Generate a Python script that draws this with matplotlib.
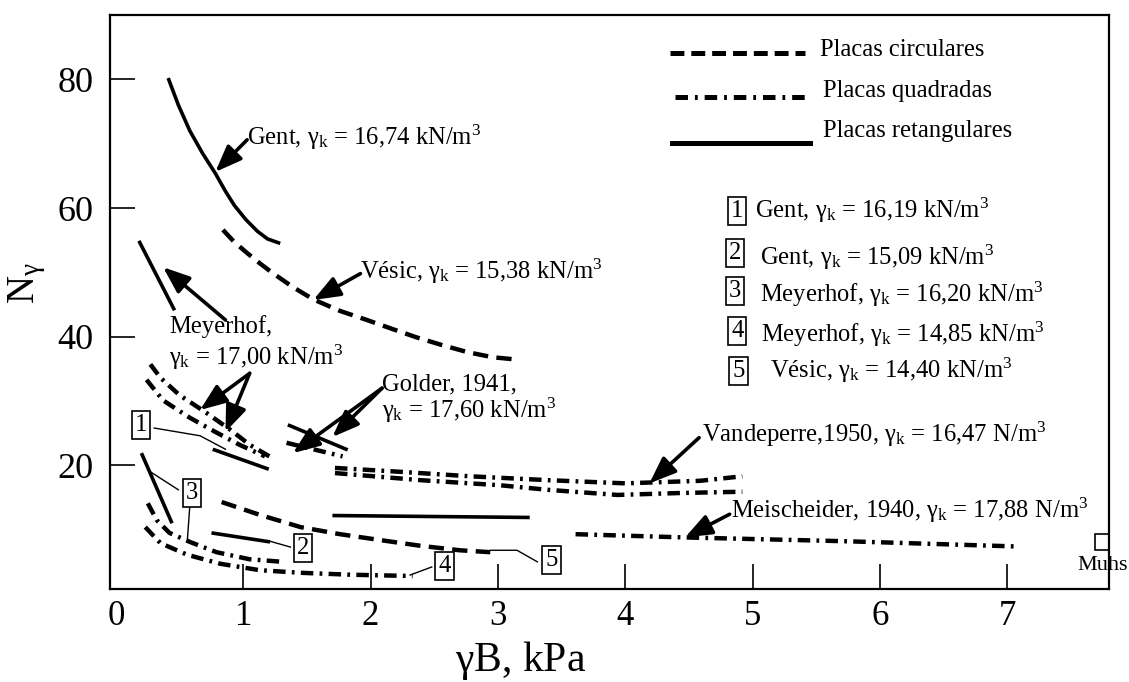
import matplotlib
matplotlib.use('Agg')
import matplotlib.pyplot as plt

plt.rcParams['font.family'] = ['Liberation Serif', 'DejaVu Serif']
plt.rcParams['mathtext.fontset'] = 'custom'
plt.rcParams['mathtext.rm'] = 'Liberation Serif'
plt.rcParams['mathtext.it'] = 'Liberation Serif'
plt.rcParams['mathtext.bf'] = 'Liberation Serif:bold'
plt.rcParams['lines.scale_dashes'] = False

# ---------------- data (gamma*B in kPa, N_gamma) ----------------
# placas retangulares (solid)
gent_1674_x = [0.41, 0.49, 0.58, 0.68, 0.78, 0.86, 0.93, 1.02, 1.11, 1.19, 1.29]
gent_1674_y = [80.2, 76.0, 72.0, 68.5, 65.4, 62.6, 60.4, 58.2, 56.4, 55.2, 54.5]
meyer_1700_rect_x = [0.18, 0.46]
meyer_1700_rect_y = [54.9, 44.1]
golder_rect_x = [1.35, 1.82]
golder_rect_y = [26.3, 22.4]
gent_1619_x = [0.76, 1.20]          # [1]
gent_1619_y = [22.5, 19.4]
meyer_1620_rect_x = [0.20, 0.44]    # [3]
meyer_1620_rect_y = [21.9, 11.0]
gent_1509_x = [0.75, 1.21]          # [2]
gent_1509_y = [9.5, 8.1]
rect_mid_x = [1.70, 3.25]
rect_mid_y = [12.2, 11.9]

# placas circulares (dashed)
vesic_1538_x = [0.84, 0.93, 1.03, 1.13, 1.23, 1.39, 1.55, 1.76, 1.97, 2.17, 2.36, 2.56, 2.76, 2.96, 3.17]
vesic_1538_y = [56.6, 54.7, 53.0, 51.4, 49.9, 47.7, 45.8, 44.0, 42.6, 41.2, 39.9, 38.7, 37.6, 36.8, 36.4]
vesic_1440_x = [0.83, 1.13, 1.45, 1.76, 2.07, 2.39, 2.70, 2.94]   # [5]
vesic_1440_y = [14.3, 12.3, 10.4, 9.3, 8.4, 7.5, 6.8, 6.5]

# placas quadradas (dash-dot)
meyer_1700_a_x = [0.27, 0.35, 0.50, 0.70, 0.90, 1.05, 1.23]
meyer_1700_a_y = [35.7, 33.6, 30.9, 28.3, 25.5, 23.2, 21.1]
meyer_1700_b_x = [0.24, 0.37, 0.58, 0.78, 0.97, 1.17]
meyer_1700_b_y = [33.3, 30.1, 27.4, 25.2, 23.2, 21.4]
golder_sq_x = [1.34, 1.78]
golder_sq_y = [23.5, 21.4]
vandep_a_x = [1.72, 2.23, 2.78, 3.39, 4.00, 4.59, 4.92]
vandep_a_y = [19.6, 19.0, 18.3, 17.7, 17.2, 17.6, 18.3]
vandep_b_x = [1.72, 2.39, 3.02, 3.39, 3.94, 4.43, 4.92]
vandep_b_y = [18.8, 17.7, 16.9, 16.2, 15.4, 15.7, 15.9]
meisch_x = [3.61, 4.46, 5.74, 7.06]
meisch_y = [9.3, 8.8, 8.2, 7.4]
meyer_1620_sq_x = [0.25, 0.32, 0.42, 0.58, 0.79, 1.05, 1.31]   # [3]
meyer_1620_sq_y = [14.1, 11.5, 9.5, 8.1, 6.5, 5.4, 5.0]
meyer_1485_x = [0.23, 0.35, 0.56, 0.82, 1.13, 1.45, 1.84, 2.33]  # [4]
meyer_1485_y = [10.4, 7.9, 6.1, 4.7, 3.7, 3.3, 3.0, 2.8]

muhs_x = [7.75]
muhs_y = [8.1]

x_ticks = [0, 1, 2, 3, 4, 5, 6, 7]
y_ticks = [20, 40, 60, 80]

# ---------------- styles ----------------
LW = 2.6
DASHED = (0, (11, 6))
DASHDOT = (0, (9, 4.5, 2, 4.5))
FS = 17.7
G = r'$\gamma_\mathrm{k}$'

fig = plt.figure(figsize=(11.29, 6.82), dpi=100)
ax = fig.add_axes([110 / 1129, 93 / 682, 999 / 1129, 574 / 682])
ax.set_xlim(-0.047, 7.80)
ax.set_ylim(0.78, 90)

solid = [(gent_1674_x, gent_1674_y), (meyer_1700_rect_x, meyer_1700_rect_y),
         (golder_rect_x, golder_rect_y), (gent_1619_x, gent_1619_y),
         (meyer_1620_rect_x, meyer_1620_rect_y), (gent_1509_x, gent_1509_y),
         (rect_mid_x, rect_mid_y)]
dashed = [(vesic_1538_x, vesic_1538_y), (vesic_1440_x, vesic_1440_y)]
dashdot = [(meyer_1700_a_x, meyer_1700_a_y), (meyer_1700_b_x, meyer_1700_b_y),
           (golder_sq_x, golder_sq_y), (vandep_a_x, vandep_a_y),
           (vandep_b_x, vandep_b_y), (meisch_x, meisch_y),
           (meyer_1620_sq_x, meyer_1620_sq_y), (meyer_1485_x, meyer_1485_y)]

for xs, ys in solid:
    ax.plot(xs, ys, color='black', lw=LW, solid_capstyle='butt', solid_joinstyle='round')
for xs, ys in dashed:
    ax.plot(xs, ys, color='black', lw=LW + 0.6, ls=DASHED, dash_capstyle='butt')
for xs, ys in dashdot:
    ax.plot(xs, ys, color='black', lw=LW + 0.6, ls=DASHDOT, dash_capstyle='butt')

ax.plot(muhs_x, muhs_y, marker='s', ms=11, mfc='none', mec='black', mew=1.2, ls='none')
ax.text(7.75, 3.7, 'Muhs', fontsize=16, ha='center', va='baseline')

# ---------------- legend (drawn by hand, as in the original) ----------------
ax.plot([4.35, 5.41], [84.1, 84.1], color='black', lw=LW + 1, ls=(0, (10, 5)), dash_capstyle='butt')
ax.plot([4.39, 5.41], [77.2, 77.2], color='black', lw=LW + 1, ls=(0, (9, 5, 2, 5)), dash_capstyle='butt')
ax.plot([4.37, 5.45], [70.1, 70.1], color='black', lw=LW + 1)
ax.text(5.53, 83.6, 'Placas circulares', fontsize=FS, va='baseline')
ax.text(5.55, 77.2, 'Placas quadradas', fontsize=FS, va='baseline')
ax.text(5.55, 71.0, 'Placas retangulares', fontsize=FS, va='baseline')

box = dict(boxstyle='square,pad=0.12', fc='white', ec='black', lw=1.2)
legend_items = [
    ('1', 4.88, 59.5, 5.02, 58.4, 'Gent, ' + G + ' = 16,19 kN/m$^3$'),
    ('2', 4.86, 53.0, 5.06, 51.1, 'Gent, ' + G + ' = 15,09 kN/m$^3$'),
    ('3', 4.86, 47.1, 5.06, 45.4, 'Meyerhof, ' + G + ' = 16,20 kN/m$^3$'),
    ('4', 4.88, 40.9, 5.07, 39.2, 'Meyerhof, ' + G + ' = 14,85 kN/m$^3$'),
    ('5', 4.89, 34.7, 5.14, 33.6, 'Vésic, ' + G + ' = 14,40 kN/m$^3$'),
]
for num, bx, by, tx, ty, label in legend_items:
    ax.text(bx, by, num, fontsize=FS, ha='center', va='center', bbox=box)
    ax.text(tx, ty, label, fontsize=FS, va='baseline')

# ---------------- annotations ----------------
ax.text(1.03, 69.8, 'Gent, ' + G + ' = 16,74 kN/m$^3$', fontsize=FS, va='baseline')
ax.text(1.92, 49.0, 'Vésic, ' + G + ' = 15,38 kN/m$^3$', fontsize=FS, va='baseline')
ax.text(0.42, 40.6, 'Meyerhof,', fontsize=FS, va='baseline')
ax.text(0.42, 35.6, G + ' = 17,00 kN/m$^3$', fontsize=FS, va='baseline')
ax.text(2.09, 31.7, 'Golder, 1941,', fontsize=FS, va='baseline')
ax.text(2.09, 27.4, G + ' = 17,60 kN/m$^3$', fontsize=FS, va='baseline')
ax.text(4.60, 23.6, 'Vandeperre,1950, ' + G + ' = 16,47 N/m$^3$', fontsize=FS, va='baseline')
ax.text(4.83, 11.8, 'Meischeider, 1940, ' + G + ' = 17,88 N/m$^3$', fontsize=FS, va='baseline')

arrows = [
    ((1.03, 70.6), (0.78, 65.6)),
    ((1.92, 49.8), (1.55, 45.7)),
    ((0.86, 42.6), (0.37, 50.8)),
    ((1.05, 34.3), (0.66, 28.6)),
    ((1.05, 34.3), (0.86, 25.2)),
    ((2.09, 32.0), (1.39, 21.9)),
    ((2.09, 32.0), (1.70, 24.4)),
    ((4.58, 24.3), (4.19, 17.2)),
    ((4.82, 12.4), (4.47, 8.8)),
]
for tail, head in arrows:
    ax.annotate('', xy=head, xytext=tail,
                arrowprops=dict(arrowstyle='-|>,head_length=0.9,head_width=0.35',
                                lw=2.6, color='black', shrinkA=0, shrinkB=0,
                                mutation_scale=18))

# numbered boxes on the curves and their leader lines
curve_boxes = [('1', 0.196, 26.3), ('3', 0.60, 15.7), ('2', 1.47, 7.1),
               ('4', 2.58, 4.35), ('5', 3.42, 5.3)]
for num, bx, by in curve_boxes:
    ax.text(bx, by, num, fontsize=FS, ha='center', va='center', bbox=box)

leaders = [
    ([0.30, 0.66, 0.86], [25.8, 24.6, 22.5]),
    ([0.49, 0.27], [16.2, 19.0]),
    ([0.58, 0.56], [13.7, 8.2]),
    ([1.21, 1.37], [8.2, 7.3]),
    ([2.31, 2.48], [2.95, 4.2]),
    ([2.94, 3.15, 3.31], [6.8, 6.8, 5.0]),
]
for xs, ys in leaders:
    ax.plot(xs, ys, color='black', lw=1.0)

# ---------------- axes ----------------
for s in ax.spines.values():
    s.set_linewidth(1.6)
ax.set_xticks(x_ticks)
ax.set_xticklabels([str(v) for v in x_ticks])
ax.set_yticks(y_ticks)
ax.set_yticklabels([str(v) for v in y_ticks])
ax.tick_params(axis='x', direction='in', length=18, width=1.2, labelsize=25, pad=8)
ax.tick_params(axis='y', direction='in', length=18, width=1.2, labelsize=26, pad=12)
ax.xaxis.get_major_ticks()[0].tick1line.set_visible(False)

fig.text(521 / 1129, 1 - 660 / 682, r'$\gamma$B, kPa', fontsize=30, ha='center', va='center')
fig.text(27 / 1129, 1 - 283 / 682, r'N$_\gamma$', fontsize=28, ha='center', va='center', rotation=90)

fig.savefig('out.png', dpi=100)
